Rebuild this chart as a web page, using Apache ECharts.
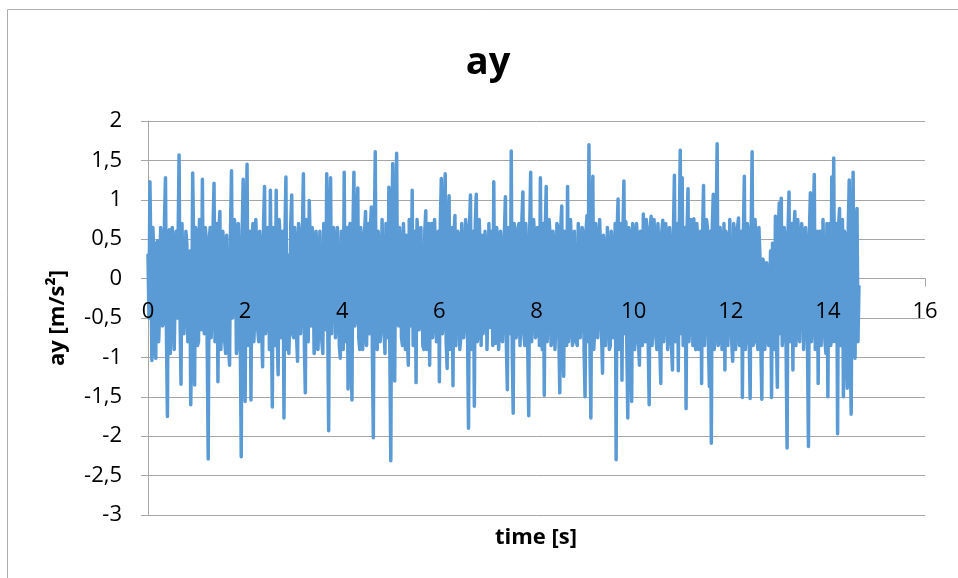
<!DOCTYPE html>
<html>
<head>
<meta charset="utf-8">
<script src="https://cdn.jsdelivr.net/npm/echarts@6/dist/echarts.min.js"></script>
<style>
html,body{margin:0;padding:0;background:#fff;}
#chart{width:958px;height:578px;}
</style>
</head>
<body>
<div id="chart"></div>
<script>
// ---- data ----
const chartTitle = 'ay';
const xTitle = 'time [s]';
const yTitle = 'ay [m/s²]';
const sampleStep = 0.02; // seconds between samples
const xTicks = [0, 2, 4, 6, 8, 10, 12, 14, 16];
const yTicks = [-3, -2.5, -2, -1.5, -1, -0.5, 0, 0.5, 1, 1.5, 2];

// one array per second of signal (50 samples each)
const ay_s0 = [0.30,-0.50,1.23,0.25,-1.04,0.65,0.35,-0.90,-1.01,0.45,0.48,-0.80,-0.40,0.65,0.50,-0.60,-0.55,0.75,1.28,-0.70,-1.75,0.55,0.62,-0.95,-0.45,0.65,0.40,-0.90,-0.90,0.60,-0.50,0.50,1.57,-0.50,-1.34,0.70,0.70,-0.70,-0.30,0.60,0.45,-0.80,-0.60,0.35,-1.60,-0.70,1.34,0.45,-1.35,0.65];
const ay_s1 = [0.60,-0.85,-0.80,0.75,0.30,-0.65,1.26,-0.50,-0.70,0.65,0.50,-0.90,-2.29,0.45,0.65,-0.75,-0.40,0.65,1.21,-0.80,-0.20,0.70,-1.31,0.60,0.85,-0.90,-0.60,0.60,0.40,-0.80,-0.95,0.55,0.55,-0.85,-1.10,0.65,1.37,-0.50,-0.50,0.75,0.60,-0.95,-0.85,0.70,0.25,-0.75,-2.26,0.60,1.26,-0.85];
const ay_s2 = [-1.56,0.45,1.45,-0.85,-0.30,0.60,-1.54,0.35,0.70,-0.80,-0.45,0.75,0.35,-0.65,-0.80,0.60,0.40,-0.60,-1.12,0.70,1.17,-0.70,-0.50,0.65,0.25,-0.90,1.12,-0.50,-1.63,0.65,0.60,-0.85,1.12,-0.70,-1.22,0.75,0.55,-0.75,-0.60,0.60,-1.77,0.55,1.29,-0.90,0.30,-0.95,-0.55,0.70,1.06,-0.70];
const ay_s3 = [-0.75,0.65,0.40,-0.75,-1.05,0.70,0.55,-0.70,-0.35,0.60,1.33,-0.85,-1.45,0.75,0.30,-0.80,0.99,0.45,-0.60,0.65,0.45,-0.95,-0.85,0.60,0.35,-0.90,-0.50,0.60,0.60,-0.80,-0.95,0.70,0.20,-0.65,1.33,-0.50,-1.93,0.75,1.28,-0.70,-0.70,0.65,0.50,-0.75,-0.40,0.65,0.65,-0.85,-1.01,0.60];
const ay_s4 = [0.40,-0.90,1.35,-0.70,-0.80,0.65,-1.40,0.55,0.70,-0.85,-1.54,0.60,1.35,-0.60,-0.50,0.75,1.15,-0.75,-0.90,0.65,0.45,-0.90,-0.60,0.60,0.85,-0.85,-0.35,0.70,-0.70,0.65,0.91,-0.90,-2.02,0.60,1.61,-0.85,-0.90,0.60,0.40,-0.80,-0.60,0.75,0.75,-0.65,-0.95,0.70,0.30,-0.75,1.16,-0.95];
const ay_s5 = [-2.31,0.60,1.46,-0.80,-1.30,0.70,1.59,-0.50,-0.60,0.65,0.45,-0.75,-0.85,0.70,0.30,-0.90,0.55,-0.70,-1.10,0.75,0.40,-0.60,1.12,-0.85,-0.70,0.60,-1.32,0.75,0.50,-0.65,-0.40,0.65,0.65,-0.85,-0.90,0.60,0.86,-0.90,-0.30,0.70,-1.10,0.55,0.70,-0.75,-0.55,0.75,0.40,-0.80,-0.80,0.60];
const ay_s6 = [-1.31,0.70,1.27,-0.70,-0.60,0.75,1.33,-0.80,-1.14,0.60,1.05,-0.90,-0.50,0.65,-1.36,0.55,0.80,-0.85,-0.40,0.60,0.55,-0.90,-0.75,0.70,0.35,-0.75,-0.55,0.75,0.60,-0.70,-1.90,0.65,1.06,-0.90,-0.40,0.60,-1.62,0.70,1.07,-0.80,-0.70,0.75,0.35,-0.85,0.55,-0.70,-0.45,0.60,0.25,-0.90];
const ay_s7 = [-0.35,0.70,-0.62,0.60,0.45,-0.85,1.23,-0.70,-0.82,0.65,0.50,-0.90,-0.60,0.60,0.40,-0.80,-0.45,0.60,1.04,-0.85,-1.41,0.65,0.60,-0.70,1.62,-0.90,-1.71,0.70,0.45,-0.75,-0.65,0.65,0.70,-0.85,-0.50,0.75,1.10,-0.70,-0.85,0.70,0.30,-0.90,-1.74,0.60,1.35,-0.80,-0.40,0.75,0.55,-0.75];
const ay_s8 = [-0.70,0.65,0.45,-0.85,1.28,-0.70,-0.90,0.70,-1.48,0.60,1.17,-0.80,-0.45,0.75,0.55,-0.85,-0.80,0.60,0.40,-0.90,-0.55,0.70,0.65,-0.70,-1.45,0.65,0.92,-0.90,-1.24,0.60,0.50,-0.85,1.17,-0.80,-0.60,0.75,0.35,-0.85,-0.77,0.60,0.60,-0.80,-0.85,0.70,0.45,-0.75,-0.40,0.65,0.55,-0.90];
const ay_s9 = [-1.50,0.60,0.80,-0.80,1.70,-0.85,-1.77,0.65,1.30,-0.90,-0.60,0.70,0.50,-0.75,-0.45,0.75,0.35,-0.70,-1.20,0.55,0.36,-0.85,-0.50,0.65,0.30,-0.90,-0.85,0.60,0.40,-0.75,-0.30,0.70,-2.30,0.60,1.01,-0.90,-0.50,0.70,-1.29,0.55,1.24,-0.70,0.72,-0.85,-1.77,0.65,0.55,-0.90,-1.56,0.70];
const ay_s10 = [0.60,-0.90,-0.70,0.70,0.45,-0.80,-1.10,0.60,0.50,-0.85,0.82,-0.70,-0.80,0.75,0.60,-0.80,-1.60,0.60,0.79,-0.85,-0.50,0.75,0.45,-0.75,-0.90,0.70,0.35,-0.90,-1.33,0.60,0.74,-0.80,-0.45,0.70,0.55,-0.90,-0.70,0.65,0.40,-0.85,-1.16,0.60,1.31,-0.80,-0.60,0.70,-1.17,0.55,1.63,-0.70];
const ay_s11 = [1.28,-0.85,-0.85,0.65,-1.65,0.60,1.14,-0.80,-0.50,0.75,0.60,-0.85,0.76,-0.80,-0.90,0.70,0.50,-0.90,-0.60,0.60,-1.33,0.55,1.18,-0.85,-0.40,0.75,0.65,-0.80,-1.37,0.60,-2.09,0.65,1.07,-0.90,-0.60,0.70,1.71,-0.85,-0.80,0.65,0.45,-0.90,-0.55,0.70,-1.16,0.60,0.50,-0.85,-0.40,0.75];
const ay_s12 = [0.75,-0.80,-1.05,0.70,0.55,-0.90,-0.60,0.65,0.77,-0.85,-0.50,0.60,-1.51,0.55,1.30,-0.90,-0.70,0.70,0.60,-0.80,-1.52,0.60,1.61,-0.85,-0.80,0.75,0.45,-0.75,-0.90,0.65,0.30,-0.85,-1.53,0.25,0.20,-0.90,-0.60,0.20,0.22,-0.85,-0.85,0.35,-1.51,0.45,0.40,-0.90,0.79,-0.70,-1.38,0.65];
const ay_s13 = [0.96,-0.70,1.02,-0.85,-0.70,0.65,0.50,-0.90,-2.15,0.60,1.10,-0.80,-0.40,0.70,-1.16,0.60,0.85,-0.85,-0.60,0.75,0.45,-0.80,-0.80,0.70,0.51,-0.90,-0.50,0.65,0.40,-0.85,-2.13,0.60,1.09,-0.80,-0.60,0.70,1.32,-0.90,-0.90,0.60,-1.33,0.55,0.60,-0.85,-0.50,0.75,0.73,-0.80,-0.95,0.70];
const ay_s14 = [-1.50,0.60,0.70,-0.85,1.29,-0.80,1.53,-0.70,-0.80,0.70,-1.97,0.65,0.89,-0.85,-0.60,0.75,-1.50,0.60,0.55,-0.90,-1.39,0.65,1.25,-0.85,-1.72,0.60,1.35,-0.90,-1.01,0.70,0.89,-0.80,-0.10];

const ayValues = [].concat(ay_s0, ay_s1, ay_s2, ay_s3, ay_s4, ay_s5, ay_s6, ay_s7,
  ay_s8, ay_s9, ay_s10, ay_s11, ay_s12, ay_s13, ay_s14);
const seriesData = ayValues.map((v, i) => [+(i * sampleStep).toFixed(2), v]);

// ---- styling ----
const gridColor = '#a6a6a6';
const fontFam = '"Open Sans", "Liberation Sans", sans-serif';
const comma = v => String(v).replace('.', ',');
const gridTop = 121, gridBottom = 63, chartH = 578;
const plotH = chartH - gridTop - gridBottom;
// the x labels sit on the y = 0 line (Excel "axis crosses at 0")
const zeroOffset = -plotH * (0 - yTicks[0]) / (yTicks[yTicks.length - 1] - yTicks[0]);

const chart = echarts.init(document.getElementById('chart'), null, {renderer: 'canvas'});
chart.setOption({
  animation: false,
  backgroundColor: '#ffffff',
  grid: {left: 148, top: gridTop, right: 33, bottom: gridBottom},
  xAxis: [{
    type: 'value', min: xTicks[0], max: xTicks[xTicks.length - 1], interval: 2,
    axisLine: {show: true, onZero: true, lineStyle: {color: gridColor, width: 1}},
    axisTick: {show: true, inside: false, length: 8, lineStyle: {color: gridColor}},
    axisLabel: {show: false},
    splitLine: {show: false}
  }, {
    type: 'value', min: xTicks[0], max: xTicks[xTicks.length - 1], interval: 2,
    position: 'bottom', offset: zeroOffset, z: 5,
    axisLine: {show: false, onZero: false},
    axisTick: {show: false},
    axisLabel: {show: true, color: '#000', fontSize: 22, fontFamily: fontFam, margin: 22,
      formatter: comma},
    splitLine: {show: false}
  }],
  yAxis: {
    type: 'value', min: yTicks[0], max: yTicks[yTicks.length - 1], interval: 0.5,
    axisLine: {show: true, lineStyle: {color: gridColor, width: 1}},
    axisTick: {show: true, inside: false, length: 7, lineStyle: {color: gridColor}},
    axisLabel: {color: '#000', fontSize: 22, fontFamily: fontFam, margin: 26, formatter: comma},
    splitLine: {show: true, lineStyle: {color: gridColor, width: 1}}
  },
  graphic: [
    {type: 'rect', silent: true, z: -1,
      shape: {x: 7.5, y: 9.5, width: 1200, height: 1000},
      style: {fill: null, stroke: '#adadad', lineWidth: 1}},
    {type: 'text', x: 488, y: 63, z: 10,
      style: {text: chartTitle, fill: '#000', font: 'bold 38px ' + fontFam, align: 'center', verticalAlign: 'middle'}},
    {type: 'text', x: 536, y: 538, z: 10,
      style: {text: xTitle, fill: '#000', font: 'bold 22px ' + fontFam, align: 'center', verticalAlign: 'middle'}},
    {type: 'text', x: 58, y: 318, rotation: Math.PI / 2, z: 10,
      style: {text: yTitle, fill: '#000', font: 'bold 22px ' + fontFam, align: 'center', verticalAlign: 'middle'}}
  ],
  series: [{
    type: 'line', xAxisIndex: 0, yAxisIndex: 0, data: seriesData, showSymbol: false, symbol: 'none',
    lineStyle: {color: '#5b9bd5', width: 3.5, join: 'round', cap: 'round'},
    z: 2
  }]
});
</script>
</body>
</html>
